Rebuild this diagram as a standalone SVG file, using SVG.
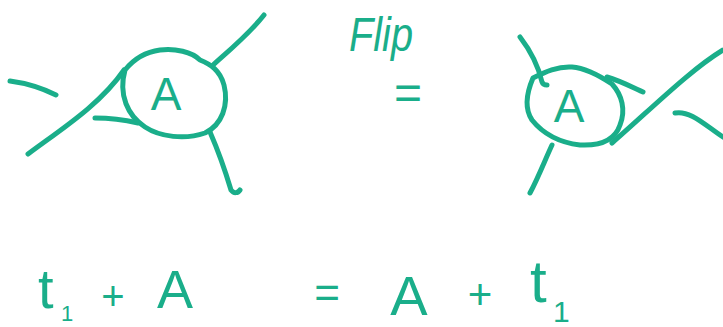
<svg xmlns="http://www.w3.org/2000/svg" width="723" height="327" viewBox="0 0 723 327">
<style>
.s{fill:none;stroke:#1aae8a;stroke-width:5;stroke-linecap:round;stroke-linejoin:round}
.t{fill:#1aae8a;font-family:"Liberation Sans",Arial,sans-serif}
</style>
<rect width="723" height="327" fill="#ffffff"/>
<g id="connectors">
<path class="s" d="M10,81 C25,83 42,88 56,95"/>
<path class="s" d="M28,154 C60,130 100,105 124,70"/>
<path class="s" d="M95,118 C110,118 125,120 138,123"/>
<path class="s" d="M213,65 C232,48 250,33 264,15"/>
<path class="s" d="M210,132 C220,155 228,180 231,190 C234,194 238,193 240,190"/>
<path class="s" d="M520,37 C530,50 538,65 542,82 C543,85 546,85 547,85"/>
<path class="s" d="M607,77 C618,80 630,86 643,92"/>
<path class="s" d="M612,143 C650,110 690,70 723,50"/>
<path class="s" d="M675,113 C690,110 705,125 723,137"/>
<path class="s" d="M552,145 C545,160 538,178 530,193"/>
</g>
<g id="node-left">
<path class="s" d="M125,70 C118,95 128,116 145,127 C160,137 185,140 205,133 C222,125 229,105 224,85 C220,70 210,64 200,60 C192,52 175,48 160,50 C145,52 133,60 125,70 Z"/>
<text class="t" x="166" y="110" font-size="46" text-anchor="middle">A</text>
</g>
<g id="node-right">
<path class="s" d="M533,78 C527,92 524,108 532,120 C540,130 555,142 580,145 C600,146 615,140 620,125 C626,110 622,95 612,84 C600,76 585,68 572,67 C558,66 545,72 533,78 Z"/>
<text class="t" x="569" y="122" font-size="46" text-anchor="middle">A</text>
</g>
<g id="labels">
<text class="t" x="349" y="51" font-size="48" font-style="italic" textLength="64" lengthAdjust="spacingAndGlyphs">Flip</text>
<text class="t" x="408" y="109" font-size="48" text-anchor="middle">=</text>
<text class="t" x="38" y="308" font-size="56">t</text>
<text class="t" x="61" y="321" font-size="22">1</text>
<text class="t" x="113" y="310" font-size="40" text-anchor="middle">+</text>
<text class="t" x="175" y="308" font-size="54" text-anchor="middle">A</text>
<text class="t" x="327" y="308" font-size="44" text-anchor="middle">=</text>
<text class="t" x="409" y="315" font-size="56" text-anchor="middle">A</text>
<text class="t" x="480" y="309" font-size="42" text-anchor="middle">+</text>
<text class="t" x="530" y="302" font-size="60">t</text>
<text class="t" x="553" y="322" font-size="30">1</text>
</g>
</svg>
